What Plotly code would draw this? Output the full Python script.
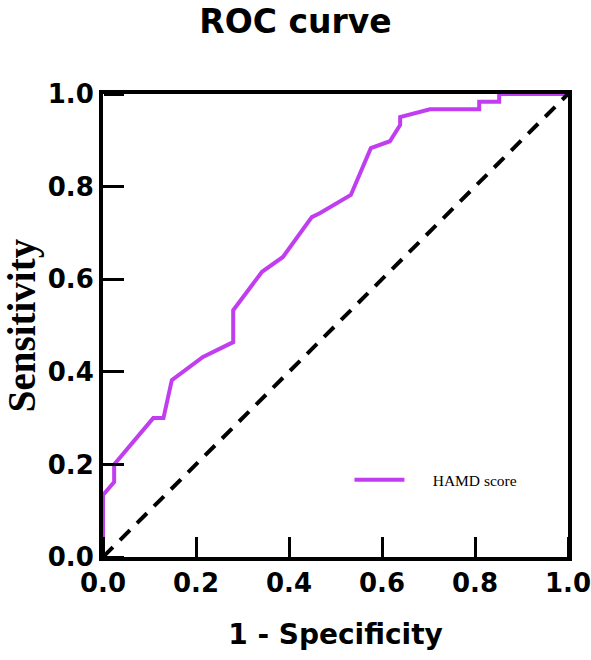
import plotly.graph_objects as go

# ROC curve points (1 - specificity, sensitivity)
fpr = [0.0, 0.0, 0.024, 0.024, 0.108, 0.13, 0.148, 0.215, 0.28, 0.28, 0.342, 0.387,
       0.449, 0.467, 0.533, 0.576, 0.617, 0.639, 0.639, 0.703, 0.809, 0.809, 0.852, 0.852, 1.0]
tpr = [0.0, 0.134, 0.162, 0.2, 0.30, 0.30, 0.382, 0.432, 0.464, 0.533, 0.616, 0.648,
       0.734, 0.743, 0.782, 0.883, 0.898, 0.933, 0.95, 0.967, 0.967, 0.983, 0.983, 1.0, 1.0]
ref_x = [0.0, 1.0]
ref_y = [0.0, 1.0]
tick_vals = [0.0, 0.2, 0.4, 0.6, 0.8, 1.0]
tick_text = ["0.0", "0.2", "0.4", "0.6", "0.8", "1.0"]

fig = go.Figure()
# reference diagonal on the overlay axes (same 0-1 ranges) so those axes are drawn
fig.add_trace(go.Scatter(x=ref_x, y=ref_y, mode="lines", showlegend=False,
                         xaxis="x2", yaxis="y2",
                         line=dict(color="black", width=4, dash="14px,10px")))
fig.add_trace(go.Scatter(x=fpr, y=tpr, mode="lines", name="\u00a0\u00a0\u00a0\u00a0\u00a0\u00a0HAMD score",
                         line=dict(color="#C13EF0", width=4), cliponaxis=False))

axis_common = dict(range=[0, 1], tickmode="array", tickvals=tick_vals, ticktext=tick_text,
                   ticks="inside", ticklen=20, tickwidth=3, tickcolor="black",
                   showline=True, linewidth=4, linecolor="black", mirror=True,
                   showgrid=False, zeroline=False, automargin=False,
                   ticklabeloverflow="allow",
                   tickfont=dict(family="DejaVu Sans", size=26, color="black", weight="bold"))

# overlay axes placed on the opposite edges' positions so their outside ticks point into the plot
tick_overlay = dict(range=[0, 1], tickmode="array", tickvals=tick_vals,
                    ticks="outside", ticklen=20, tickwidth=3, tickcolor="black",
                    showticklabels=False, showline=False, showgrid=False, zeroline=False,
                    automargin=False, anchor="free", position=0)

fig.update_layout(
    template="none",
    width=591, height=660,
    margin=dict(l=103, r=23, t=94, b=103),
    plot_bgcolor="white", paper_bgcolor="white",
    title=dict(text="<b>ROC curve</b>", x=0.5, xanchor="center", y=0.967, yanchor="middle",
               font=dict(family="DejaVu Sans", size=33, color="black")),
    xaxis=dict(**axis_common,
               title=dict(text="<b>1 - Specificity</b>", standoff=28,
                          font=dict(family="DejaVu Sans", size=28, color="black"))),
    yaxis=dict(**axis_common,
               title=dict(text="<b>Sensitivity</b>", standoff=18,
                          font=dict(family="Liberation Serif", size=39, color="black"))),
    xaxis2=dict(**tick_overlay, overlaying="x", side="top"),
    yaxis2=dict(**tick_overlay, overlaying="y", side="right"),
    legend=dict(x=0.53, y=0.166, xanchor="left", yanchor="middle",
                bgcolor="rgba(0,0,0,0)", itemwidth=50,
                font=dict(family="Liberation Serif", size=15.5, color="black")),
)

fig.write_html("out.html")
